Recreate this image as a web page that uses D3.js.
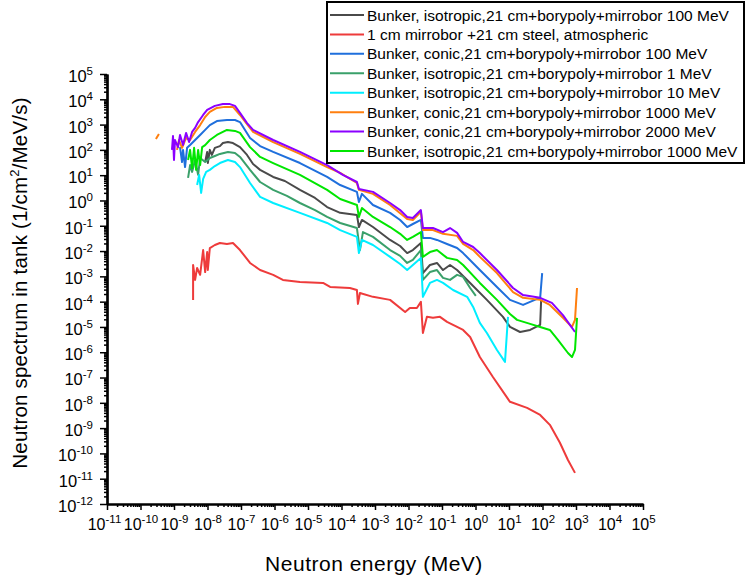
<!DOCTYPE html>
<html>
<head>
<meta charset="utf-8">
<script src="https://cdn.jsdelivr.net/npm/d3@7"></script>
<style>
  body { margin: 0; background: #fff; }
  svg { font-family: "Liberation Sans", Arial, sans-serif; }
</style>
</head>
<body>
<svg width="746" height="577"></svg>
<script>
// values as [log10 energy (MeV), log10 flux]
const isoGray100 = [[-8.07,1.52],[-8.01,1.92],[-7.99,1.48],[-7.93,2.00],[-7.87,1.80],[-7.78,2.08],[-7.63,2.15],[-7.54,2.27],
  [-7.39,2.31],[-7.24,2.27],[-7.03,2.11],[-6.82,1.80],[-6.64,1.44],[-6.43,1.21],[-6.04,0.93],[-5.69,0.77],[-5.24,0.42],
  [-4.79,0.10],[-4.43,-0.26],[-4.04,-0.49],[-3.54,-0.57],[-3.48,-1.05],[-3.39,-0.77],[-3.06,-1.05],[-2.55,-1.56],
  [-2.25,-1.80],[-2.04,-2.08],[-1.87,-1.96],[-1.63,-1.68],[-1.57,-2.87],[-1.36,-2.55],[-1.15,-2.47],[-0.97,-2.75],
  [-0.76,-2.55],[-0.55,-2.75],[-0.16,-3.26],[0.34,-3.93],[0.82,-4.60],[1.03,-5.00],[1.33,-5.20],[1.63,-5.12],
  [1.93,-4.92],[1.96,-3.93]];

const atmRed = [[-8.43,-3.93],[-8.43,-2.55],[-8.37,-3.14],[-8.31,-2.67],[-8.22,-2.94],[-8.13,-1.96],[-8.07,-2.83],
  [-8.01,-2.04],[-7.99,-2.75],[-7.93,-1.88],[-7.78,-1.76],[-7.63,-1.68],[-7.42,-1.72],[-7.24,-1.68],[-7.03,-1.96],
  [-6.73,-2.47],[-6.43,-2.75],[-6.04,-2.94],[-5.75,-3.14],[-5.24,-3.22],[-4.55,-3.26],[-4.34,-3.42],[-3.75,-3.46],
  [-3.54,-3.54],[-3.51,-4.09],[-3.45,-3.66],[-3.06,-3.81],[-2.55,-3.93],[-2.10,-4.41],[-1.96,-4.25],[-1.75,-4.25],
  [-1.63,-4.01],[-1.57,-5.24],[-1.45,-4.60],[-1.27,-4.64],[-1.06,-4.60],[-0.85,-4.80],[-0.67,-4.92],[-0.37,-5.12],
  [-0.16,-5.40],[0.13,-6.19],[0.52,-6.98],[1.03,-7.96],[1.54,-8.20],[1.93,-8.48],[2.22,-8.87],[2.52,-9.58],
  [2.76,-10.26],[2.97,-10.77]];

const conBlue100 = [[-8.82,2.11],[-8.76,1.52],[-8.73,2.00],[-8.67,1.32],[-8.61,2.08],[-8.52,2.19],[-8.37,2.39],
  [-8.22,2.59],[-8.07,2.79],[-7.93,2.98],[-7.72,3.14],[-7.42,3.18],[-7.18,3.18],[-7.03,3.10],[-6.73,2.47],[-6.43,2.15],
  [-6.04,1.92],[-5.24,1.48],[-4.43,0.93],[-4.04,0.61],[-3.54,0.34],[-3.48,-0.06],[-3.39,0.26],[-3.06,-0.18],
  [-2.55,-0.49],[-2.25,-0.77],[-2.04,-1.05],[-1.87,-0.93],[-1.63,-0.77],[-1.57,-1.48],[-1.36,-1.48],[-1.15,-1.56],
  [-0.85,-1.72],[-0.55,-1.88],[-0.37,-2.08],[0.13,-2.75],[0.64,-3.42],[1.03,-3.93],[1.42,-4.13],[1.84,-3.89],
  [1.93,-3.85],[1.99,-2.87]];

const isoSea1 = [[-8.58,0.89],[-8.52,1.40],[-8.46,1.13],[-8.37,1.60],[-8.28,1.01],[-8.22,1.68],[-8.07,1.52],[-7.93,1.68],
  [-7.78,1.76],[-7.63,1.84],[-7.39,1.92],[-7.18,1.88],[-7.03,1.72],[-6.73,1.21],[-6.43,0.73],[-6.04,0.42],[-5.63,0.18],
  [-5.24,-0.10],[-4.79,-0.38],[-4.43,-0.65],[-4.04,-0.89],[-3.54,-1.09],[-3.45,-1.96],[-3.36,-1.25],[-3.06,-1.44],
  [-2.55,-1.96],[-2.25,-2.19],[-2.04,-2.47],[-1.87,-2.35],[-1.63,-1.96],[-1.57,-3.14],[-1.36,-2.83],[-1.15,-2.75],
  [-0.97,-3.06],[-0.76,-3.14],[-0.55,-2.94],[-0.37,-3.02],[-0.16,-3.46],[0.01,-3.77]];

const isoCyan10 = [[-8.31,0.61],[-8.25,1.01],[-8.19,0.30],[-8.13,0.85],[-8.04,1.13],[-7.93,1.21],[-7.78,1.36],[-7.63,1.48],
  [-7.39,1.60],[-7.18,1.52],[-7.03,1.32],[-6.73,0.69],[-6.43,0.14],[-6.04,-0.10],[-5.24,-0.49],[-4.43,-0.89],
  [-4.04,-1.17],[-3.54,-1.44],[-3.48,-2.08],[-3.39,-1.56],[-3.06,-1.76],[-2.55,-2.23],[-2.25,-2.51],[-2.04,-2.75],
  [-1.87,-2.55],[-1.63,-2.27],[-1.57,-3.81],[-1.36,-3.26],[-1.15,-3.14],[-0.97,-3.26],[-0.67,-3.54],[-0.25,-3.81],
  [-0.07,-4.21],[0.13,-4.84],[0.34,-5.24],[0.64,-5.91],[0.88,-6.38],[0.97,-4.60]];

const conOrange1000 = [[-9.54,2.43],[-9.45,2.63],null,[-8.91,2.00],[-8.85,2.39],[-8.76,2.08],[-8.64,2.47],[-8.52,2.39],
  [-8.37,2.71],[-8.22,2.98],[-8.07,3.30],[-7.93,3.50],[-7.72,3.66],[-7.48,3.70],[-7.24,3.70],[-7.03,3.38],[-6.82,3.02],
  [-6.64,2.71],[-6.04,2.31],[-5.24,1.84],[-4.43,1.32],[-4.04,1.09],[-3.54,0.69],[-3.48,0.42],[-3.06,0.26],[-2.55,-0.18],
  [-2.04,-0.73],[-1.87,-0.77],[-1.63,-0.45],[-1.57,-1.17],[-1.27,-1.17],[-0.97,-1.32],[-0.55,-1.40],[-0.37,-1.72],
  [-0.07,-1.96],[0.13,-2.23],[0.64,-2.87],[1.12,-3.62],[1.42,-3.85],[1.93,-3.93],[2.22,-4.13],[2.61,-4.64],
  [2.88,-5.00],[2.97,-4.72],[3.03,-3.46]];

const conPurple2000 = [[-9.06,2.00],[-9.03,2.55],[-9.00,1.60],[-8.97,2.39],[-8.88,2.11],[-8.82,2.59],[-8.73,2.19],
  [-8.64,2.67],[-8.55,2.31],[-8.46,2.71],[-8.37,2.87],[-8.28,3.10],[-8.13,3.38],[-8.01,3.58],[-7.78,3.74],[-7.54,3.81],
  [-7.33,3.81],[-7.18,3.74],[-7.03,3.46],[-6.82,3.06],[-6.64,2.79],[-6.04,2.39],[-5.24,1.92],[-4.43,1.40],[-3.96,1.01],
  [-3.54,0.73],[-3.48,0.45],[-3.06,0.34],[-2.55,-0.10],[-2.25,-0.38],[-2.04,-0.65],[-1.87,-0.69],[-1.63,-0.38],
  [-1.57,-1.09],[-1.27,-1.09],[-0.97,-1.25],[-0.76,-1.09],[-0.55,-1.28],[-0.37,-1.64],[-0.07,-1.84],[0.13,-2.08],
  [0.64,-2.75],[1.12,-3.46],[1.42,-3.74],[1.93,-3.85],[2.28,-4.05],[2.61,-4.53],[2.97,-5.20]];

const isoGreen1000 = [[-8.58,1.60],[-8.52,2.00],[-8.46,1.28],[-8.40,2.08],[-8.34,1.21],[-8.28,2.00],[-8.22,1.40],
  [-8.16,2.11],[-8.07,2.19],[-7.93,2.39],[-7.72,2.59],[-7.42,2.79],[-7.18,2.75],[-7.03,2.67],[-6.73,2.11],[-6.43,1.72],
  [-6.04,1.48],[-5.24,1.01],[-4.43,0.42],[-4.04,0.06],[-3.54,-0.18],[-3.48,-0.65],[-3.39,-0.30],[-3.06,-0.65],
  [-2.55,-1.05],[-2.25,-1.32],[-2.04,-1.56],[-1.87,-1.44],[-1.63,-1.25],[-1.57,-2.23],[-1.36,-2.04],[-1.15,-1.96],
  [-0.85,-2.27],[-0.55,-2.35],[-0.37,-2.55],[0.13,-3.26],[0.64,-3.93],[1.03,-4.49],[1.24,-4.72],[1.63,-4.88],
  [1.93,-5.00],[2.22,-5.12],[2.46,-5.51],[2.76,-6.03],[2.88,-6.19],[2.97,-5.91],[3.03,-4.64]];

const seriesNames = [
  'Bunker, isotropic,21 cm+borypoly+mirrobor 100 MeV',
  '1 cm mirrobor +21 cm steel, atmospheric',
  'Bunker, conic,21 cm+borypoly+mirrobor 100 MeV',
  'Bunker, isotropic,21 cm+borypoly+mirrobor 1 MeV',
  'Bunker, isotropic,21 cm+borypoly+mirrobor 10 MeV',
  'Bunker, conic,21 cm+borypoly+mirrobor 1000 MeV',
  'Bunker, conic,21 cm+borypoly+mirrobor 2000 MeV',
  'Bunker, isotropic,21 cm+borypoly+mirrobor 1000 MeV'
];
const seriesData = [isoGray100, atmRed, conBlue100, isoSea1, isoCyan10, conOrange1000, conPurple2000, isoGreen1000];
const seriesColors = ['#4a4a4a', '#ee3b3b', '#1f6fdc', '#3aa06a', '#00eeff', '#ff7f0f', '#8b00ff', '#00e600'];

const xExponents = [-11,-10,-9,-8,-7,-6,-5,-4,-3,-2,-1,0,1,2,3,4,5];
const yExponents = [5,4,3,2,1,0,-1,-2,-3,-4,-5,-6,-7,-8,-9,-10,-11,-12];

const svg = d3.select('svg');

const x = d3.scaleLog().domain([1e-11, 1e5]).range([107, 643]);
const y = d3.scaleLog().domain([1e-12, 1e5]).range([504, 74]);

// minor tick values (2..9 in each decade)
const minors = exps => {
  const out = [];
  exps.forEach(e => { for (let m = 2; m <= 9; m++) out.push(m * Math.pow(10, e)); });
  return out;
};
const xMinor = minors(xExponents.filter(e => e < d3.max(xExponents)));
const yMinor = minors(yExponents.filter(e => e < d3.max(yExponents)));

const supLabel = (sel) => {
  sel.each(function(d) {
    const t = d3.select(this);
    const e = Math.round(Math.log10(d));
    t.text(null);
    t.append('tspan').text('10');
    t.append('tspan').attr('dy', -7).attr('font-size', 11.5).text(e);
  });
};

// x axis
const xg = svg.append('g').attr('transform', 'translate(0,504)');
xg.append('g').call(d3.axisBottom(x).tickValues(xMinor).tickSize(3).tickFormat('').tickSizeOuter(0));
const xMaj = xg.append('g').call(d3.axisBottom(x).tickValues(xExponents.map(e => Math.pow(10, e))).tickSize(6).tickSizeOuter(0));
xMaj.selectAll('.tick text').attr('y', 15).attr('font-size', 16).attr('fill', '#000')
  .attr('font-family', '"Liberation Sans", Arial, sans-serif').call(supLabel);
// first label sits a little left, as in the original
xMaj.selectAll('.tick text').filter((d, i) => i === 0).attr('dx', -3);
xg.selectAll('.domain').attr('stroke-width', 2.2).attr('stroke', '#000');
xg.selectAll('.tick line').attr('stroke-width', 1.5).attr('stroke', '#000');

// y axis
const yg = svg.append('g').attr('transform', 'translate(107,0)');
yg.append('g').call(d3.axisLeft(y).tickValues(yMinor).tickSize(3).tickFormat('').tickSizeOuter(0));
const yMaj = yg.append('g').call(d3.axisLeft(y).tickValues(yExponents.map(e => Math.pow(10, e))).tickSize(7).tickSizeOuter(0));
yMaj.selectAll('.tick text').attr('x', -14).attr('dy', '0.45em').attr('font-size', 16.5).attr('fill', '#000')
  .attr('font-family', '"Liberation Sans", Arial, sans-serif').call(supLabel);
yg.selectAll('.domain').attr('stroke-width', 2.2).attr('stroke', '#000');
yg.selectAll('.tick line').attr('stroke-width', 1.5).attr('stroke', '#000');

// axis titles
svg.append('text')
  .attr('x', 374).attr('y', 571)
  .attr('text-anchor', 'middle').attr('font-size', 21).attr('letter-spacing', 0.5)
  .text('Neutron energy (MeV)');

const yt = svg.append('text')
  .attr('transform', 'translate(27,283) rotate(-90)')
  .attr('text-anchor', 'middle').attr('font-size', 20.5).attr('letter-spacing', 0.2);
yt.append('tspan').text('Neutron spectrum in tank (1/cm');
yt.append('tspan').attr('dy', -8).attr('font-size', 13).text('2');
yt.append('tspan').attr('dy', 8).text('/MeV/s)');

// lines
const line = d3.line()
  .defined(d => d !== null)
  .x(d => x(Math.pow(10, d[0])))
  .y(d => y(Math.pow(10, d[1])));

svg.append('g').selectAll('path')
  .data(seriesData)
  .enter().append('path')
    .attr('d', line)
    .attr('fill', 'none')
    .attr('stroke', (d, i) => seriesColors[i])
    .attr('stroke-width', 2)
    .attr('stroke-linejoin', 'round');

// legend
const lg = svg.append('g');
lg.append('rect')
  .attr('x', 327).attr('y', 2).attr('width', 417).attr('height', 161)
  .attr('fill', '#fff').attr('stroke', '#000').attr('stroke-width', 2);

const rowY = d3.scalePoint().domain(d3.range(seriesNames.length)).range([15, 151]);
const rows = lg.selectAll('.row').data(seriesNames).enter().append('g')
  .attr('transform', (d, i) => `translate(0,${rowY(i)})`);
rows.append('line')
  .attr('x1', 330).attr('x2', 364)
  .attr('stroke', (d, i) => seriesColors[i]).attr('stroke-width', 2);
rows.append('text')
  .attr('x', 367).attr('dy', '0.36em')
  .attr('font-size', 15.5)
  .text(d => d);
</script>
</body>
</html>
